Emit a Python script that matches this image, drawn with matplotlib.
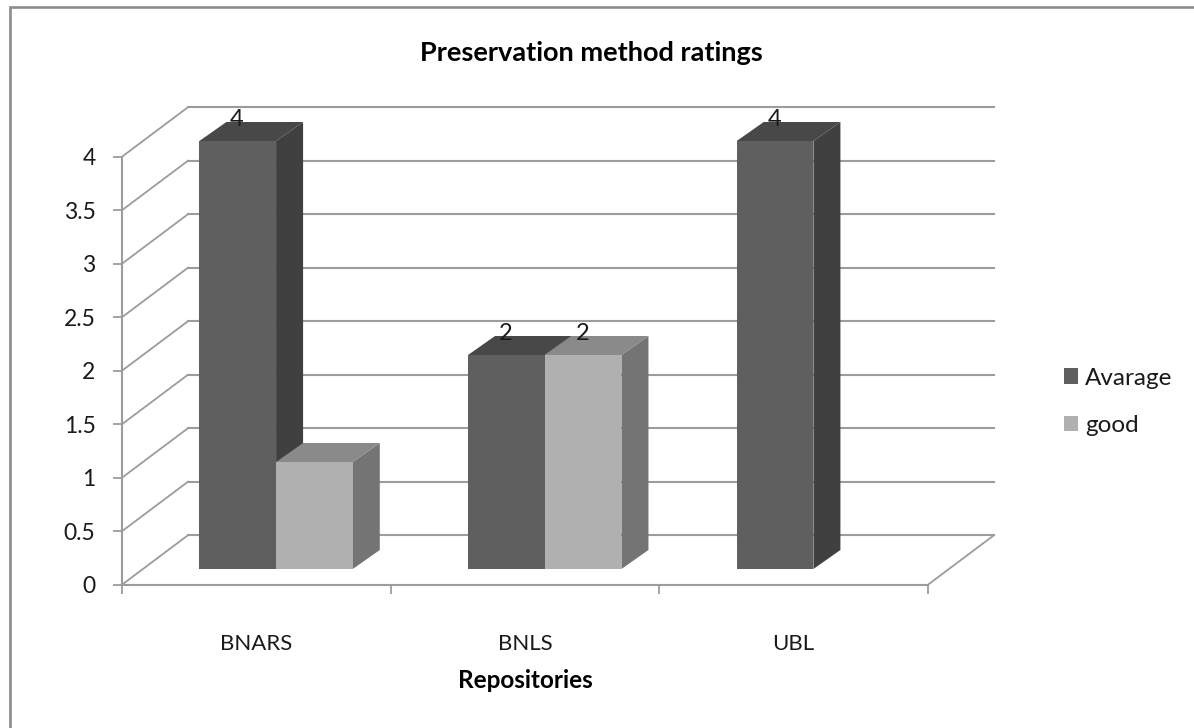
import matplotlib
matplotlib.use('Agg')
import matplotlib.pyplot as plt
from matplotlib.lines import Line2D
from matplotlib.patches import Polygon, Patch

plt.rcParams['font.family'] = ['Lato', 'DejaVu Sans']

# Data
repositories = ['BNARS', 'BNLS', 'UBL']
avarage = [4, 2, 4]
good = [1, 2, 0]
avarage_labels = ['4', '2', '4']
good_labels = ['', '2', '']
y_ticks = [0, 0.5, 1, 1.5, 2, 2.5, 3, 3.5, 4]
y_tick_labels = ['0', '0.5', '1', '1.5', '2', '2.5', '3', '3.5', '4']

W, H = 1194, 728
PX_X = 806 / 3      # pixels per category
PX_Y = 107          # pixels per rating unit

GRID = '#9c9c9c'
TEXT = '#1a1a1a'

# depth of the fake 3D box, in data units
wall_dx = 66 / PX_X
wall_dy = 49.5 / PX_Y
bar_dx = 27 / PX_X
bar_dy = 19 / PX_Y
bar_base = 15.7 / PX_Y
bar_start = 0.288
bar_w = 0.2855

fig = plt.figure(figsize=(W / 100, H / 100), dpi=100, facecolor='white')

# the frame only shows on the left and top, the rest is cropped away
fig.add_artist(Line2D([9.5 / W, 9.5 / W, 1], [0, 1 - 7 / H, 1 - 7 / H], transform=fig.transFigure,
                      color='#8c8c8c', linewidth=1.9, solid_joinstyle='miter'))

ax = fig.add_axes([122 / W, 1 - 584.7 / H, 806 / W, 428 / H])
ax.set_xlim(0, 3)
ax.set_ylim(0, 4)
ax.patch.set_visible(False)


def draw_bar(ax, x, value, front, top, side):
    y0 = bar_base
    y1 = bar_base + value
    x1 = x + bar_w
    ax.add_patch(Polygon([(x1, y0), (x1 + bar_dx, y0 + bar_dy), (x1 + bar_dx, y1 + bar_dy), (x1, y1)],
                         facecolor=side, edgecolor='none', clip_on=False, zorder=3))
    ax.add_patch(Polygon([(x, y1), (x1, y1), (x1 + bar_dx, y1 + bar_dy), (x + bar_dx, y1 + bar_dy)],
                         facecolor=top, edgecolor='none', clip_on=False, zorder=3))
    ax.add_patch(Polygon([(x, y0), (x1, y0), (x1, y1), (x, y1)],
                         facecolor=front, edgecolor='none', clip_on=False, zorder=3))


def bar_label(ax, text, x, value):
    ax.annotate(text, (x, bar_base + value), xytext=(-0.5, 8), textcoords='offset points',
                ha='center', va='bottom', fontsize=17, color=TEXT, zorder=4, annotation_clip=False)


# back wall and side wall lines
for v in y_ticks:
    ax.plot([wall_dx, 3 + wall_dx], [v + wall_dy, v + wall_dy], color=GRID, lw=1.5, clip_on=False, zorder=1)
    ax.plot([0, wall_dx], [v, v + wall_dy], color=GRID, lw=1.3, clip_on=False, zorder=1)
ax.plot([3, 3 + wall_dx], [0, wall_dy], color=GRID, lw=1.3, clip_on=False, zorder=1)

# bars, left to right so the nearer faces overlap correctly
for i in range(len(repositories)):
    x = i + bar_start
    if avarage[i] > 0:
        draw_bar(ax, x, avarage[i], '#5f5f5f', '#484848', '#404040')
    if good[i] > 0:
        draw_bar(ax, x + bar_w, good[i], '#b0b0b0', '#8a8a8a', '#747474')
    if avarage_labels[i]:
        bar_label(ax, avarage_labels[i], x + bar_w / 2, avarage[i])
    if good_labels[i]:
        bar_label(ax, good_labels[i], x + 1.5 * bar_w, good[i])

# axes
for s in ['top', 'right']:
    ax.spines[s].set_visible(False)
for s in ['left', 'bottom']:
    ax.spines[s].set_color(GRID)
    ax.spines[s].set_linewidth(1.5)

ax.set_yticks(y_ticks)
ax.set_yticklabels(y_tick_labels, fontsize=16.5, color=TEXT)
ax.tick_params(axis='y', length=6.5, width=1.3, color=GRID, pad=12.5)

ax.set_xticks([0, 1, 2, 3])
ax.set_xticklabels([])
ax.tick_params(axis='x', which='major', length=6.5, width=1.3, color=GRID)
ax.set_xticks([0.5, 1.5, 2.5], minor=True)
ax.set_xticklabels(repositories, minor=True, fontsize=16, color=TEXT)
ax.tick_params(axis='x', which='minor', length=0, pad=35.5)

ax.set_xlabel('Repositories', fontsize=17.5, fontweight='bold', color='black', labelpad=11)

fig.text(591 / W, 1 - 53 / H, 'Preservation method ratings', ha='center', va='center',
         fontsize=19.5, fontweight='bold', color='black')

handles = [Patch(facecolor='#5f5f5f', label='Avarage'), Patch(facecolor='#b0b0b0', label='good')]
fig.legend(handles=handles, loc='center left', bbox_to_anchor=(1042 / W, 1 - 402 / H), frameon=False,
           fontsize=17.5, handlelength=0.58, handleheight=0.58, handletextpad=0.3, labelspacing=1.1,
           labelcolor=TEXT)

fig.savefig('out.png', dpi=100)
